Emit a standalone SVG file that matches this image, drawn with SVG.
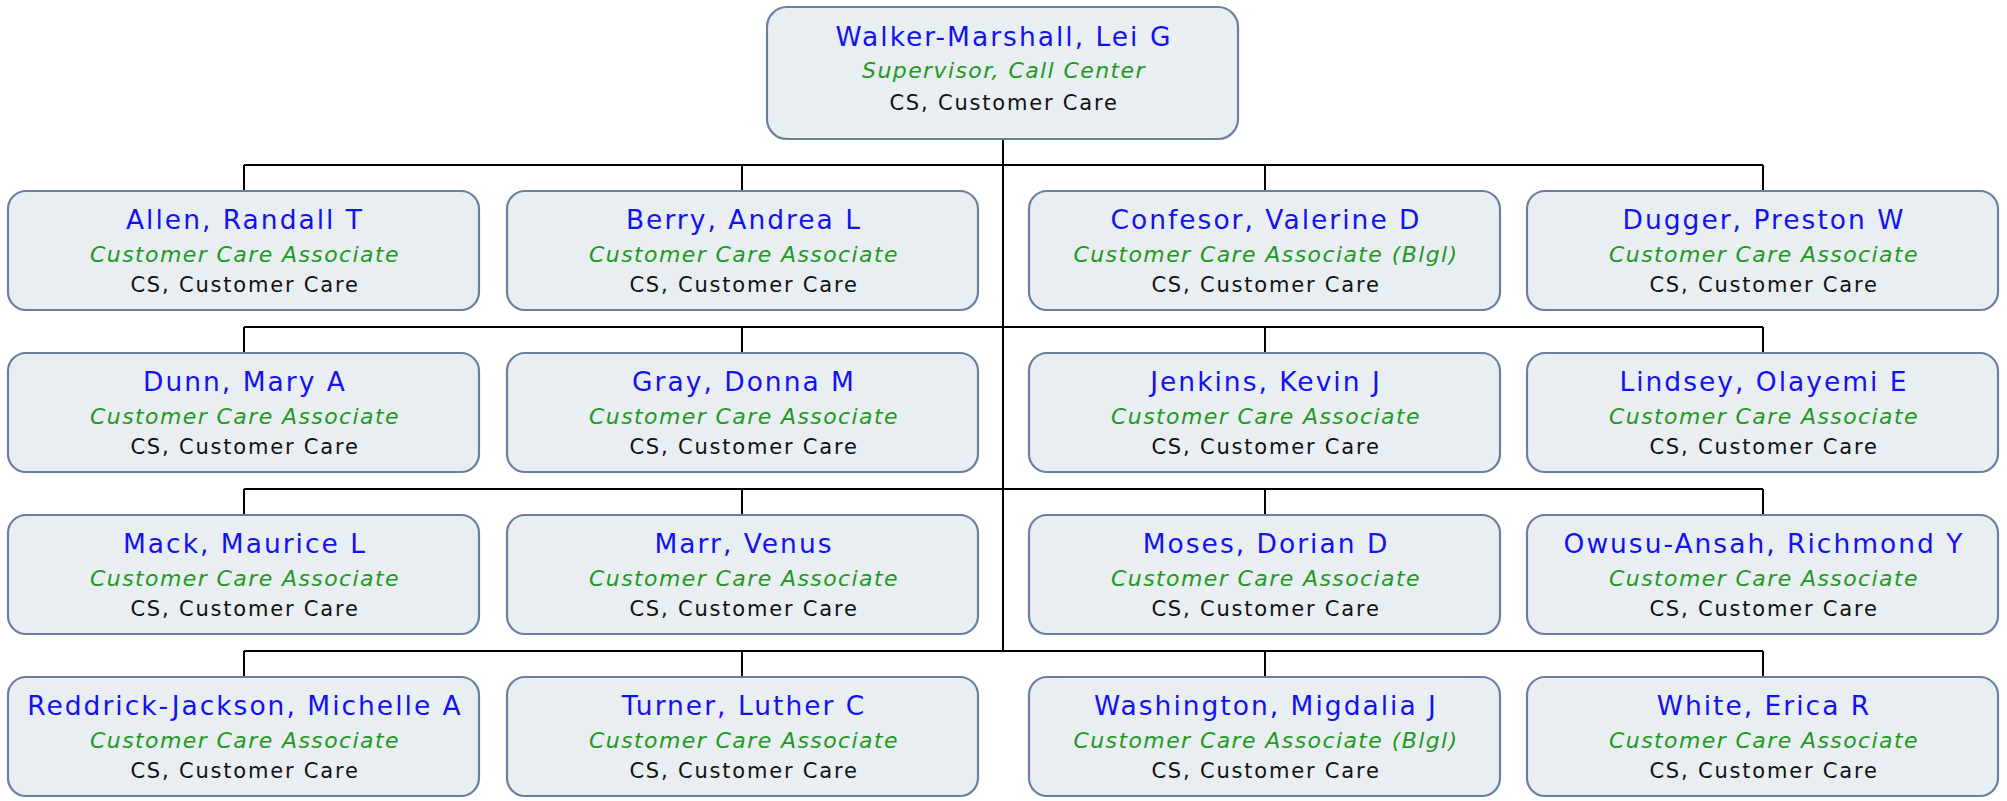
<svg xmlns="http://www.w3.org/2000/svg" width="2007" height="801" viewBox="0 0 2007 801">
<style>
.box{fill:#E9EEF2;stroke:#6B7FA0;stroke-width:2.2}
.nm{font-family:"DejaVu Sans",sans-serif;font-size:26.5px;letter-spacing:2px;fill:#1212F2;text-anchor:middle}
.tt{font-family:"DejaVu Sans",sans-serif;font-size:22px;font-style:italic;letter-spacing:1.4px;fill:#1E9A1E;text-anchor:middle}
.dp{font-family:"DejaVu Sans",sans-serif;font-size:21px;letter-spacing:1.8px;fill:#111;text-anchor:middle}
.ln{stroke:#000;stroke-width:2;fill:none}
</style>
<rect width="2007" height="801" fill="#fff"/>
<g id="connectors" class="ln">
<path d="M1003 139V651"/>
<path d="M244 165H1763M244 165V191M742 165V191M1265 165V191M1763 165V191"/>
<path d="M244 327H1763M244 327V353M742 327V353M1265 327V353M1763 327V353"/>
<path d="M244 489H1763M244 489V515M742 489V515M1265 489V515M1763 489V515"/>
<path d="M244 651H1763M244 651V677M742 651V677M1265 651V677M1763 651V677"/>
</g>
<g id="n0"><rect class="box" x="767" y="7" width="471" height="132" rx="20"/><text class="nm" x="1004" y="46">Walker-Marshall, Lei G</text><text class="tt" x="1004" y="78">Supervisor, Call Center</text><text class="dp" x="1004" y="110">CS, Customer Care</text></g>
<g id="n1"><rect class="box" x="8" y="191" width="471" height="119" rx="18"/><text class="nm" x="245" y="229">Allen, Randall T</text><text class="tt" x="245" y="262">Customer Care Associate</text><text class="dp" x="245" y="292">CS, Customer Care</text></g>
<g id="n2"><rect class="box" x="507" y="191" width="471" height="119" rx="18"/><text class="nm" x="744" y="229">Berry, Andrea L</text><text class="tt" x="744" y="262">Customer Care Associate</text><text class="dp" x="744" y="292">CS, Customer Care</text></g>
<g id="n3"><rect class="box" x="1029" y="191" width="471" height="119" rx="18"/><text class="nm" x="1266" y="229">Confesor, Valerine D</text><text class="tt" x="1266" y="262">Customer Care Associate (Blgl)</text><text class="dp" x="1266" y="292">CS, Customer Care</text></g>
<g id="n4"><rect class="box" x="1527" y="191" width="471" height="119" rx="18"/><text class="nm" x="1764" y="229">Dugger, Preston W</text><text class="tt" x="1764" y="262">Customer Care Associate</text><text class="dp" x="1764" y="292">CS, Customer Care</text></g>
<g id="n5"><rect class="box" x="8" y="353" width="471" height="119" rx="18"/><text class="nm" x="245" y="391">Dunn, Mary A</text><text class="tt" x="245" y="424">Customer Care Associate</text><text class="dp" x="245" y="454">CS, Customer Care</text></g>
<g id="n6"><rect class="box" x="507" y="353" width="471" height="119" rx="18"/><text class="nm" x="744" y="391">Gray, Donna M</text><text class="tt" x="744" y="424">Customer Care Associate</text><text class="dp" x="744" y="454">CS, Customer Care</text></g>
<g id="n7"><rect class="box" x="1029" y="353" width="471" height="119" rx="18"/><text class="nm" x="1266" y="391">Jenkins, Kevin J</text><text class="tt" x="1266" y="424">Customer Care Associate</text><text class="dp" x="1266" y="454">CS, Customer Care</text></g>
<g id="n8"><rect class="box" x="1527" y="353" width="471" height="119" rx="18"/><text class="nm" x="1764" y="391">Lindsey, Olayemi E</text><text class="tt" x="1764" y="424">Customer Care Associate</text><text class="dp" x="1764" y="454">CS, Customer Care</text></g>
<g id="n9"><rect class="box" x="8" y="515" width="471" height="119" rx="18"/><text class="nm" x="245" y="553">Mack, Maurice L</text><text class="tt" x="245" y="586">Customer Care Associate</text><text class="dp" x="245" y="616">CS, Customer Care</text></g>
<g id="n10"><rect class="box" x="507" y="515" width="471" height="119" rx="18"/><text class="nm" x="744" y="553">Marr, Venus</text><text class="tt" x="744" y="586">Customer Care Associate</text><text class="dp" x="744" y="616">CS, Customer Care</text></g>
<g id="n11"><rect class="box" x="1029" y="515" width="471" height="119" rx="18"/><text class="nm" x="1266" y="553">Moses, Dorian D</text><text class="tt" x="1266" y="586">Customer Care Associate</text><text class="dp" x="1266" y="616">CS, Customer Care</text></g>
<g id="n12"><rect class="box" x="1527" y="515" width="471" height="119" rx="18"/><text class="nm" x="1764" y="553">Owusu-Ansah, Richmond Y</text><text class="tt" x="1764" y="586">Customer Care Associate</text><text class="dp" x="1764" y="616">CS, Customer Care</text></g>
<g id="n13"><rect class="box" x="8" y="677" width="471" height="119" rx="18"/><text class="nm" x="245" y="715">Reddrick-Jackson, Michelle A</text><text class="tt" x="245" y="748">Customer Care Associate</text><text class="dp" x="245" y="778">CS, Customer Care</text></g>
<g id="n14"><rect class="box" x="507" y="677" width="471" height="119" rx="18"/><text class="nm" x="744" y="715">Turner, Luther C</text><text class="tt" x="744" y="748">Customer Care Associate</text><text class="dp" x="744" y="778">CS, Customer Care</text></g>
<g id="n15"><rect class="box" x="1029" y="677" width="471" height="119" rx="18"/><text class="nm" x="1266" y="715">Washington, Migdalia J</text><text class="tt" x="1266" y="748">Customer Care Associate (Blgl)</text><text class="dp" x="1266" y="778">CS, Customer Care</text></g>
<g id="n16"><rect class="box" x="1527" y="677" width="471" height="119" rx="18"/><text class="nm" x="1764" y="715">White, Erica R</text><text class="tt" x="1764" y="748">Customer Care Associate</text><text class="dp" x="1764" y="778">CS, Customer Care</text></g>
</svg>
